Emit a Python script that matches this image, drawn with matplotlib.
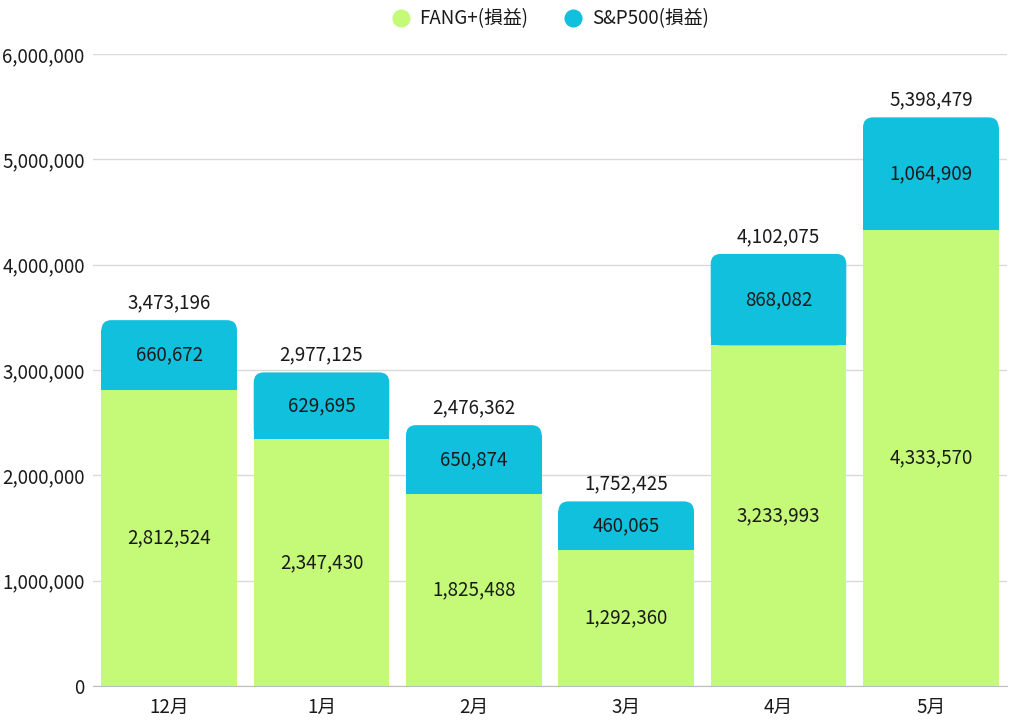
import matplotlib.pyplot as plt
from matplotlib.patches import FancyBboxPatch
from matplotlib.lines import Line2D
from matplotlib.ticker import FuncFormatter

plt.rcParams['font.family'] = ['Noto Sans CJK JP', 'DejaVu Sans']

# Data
months = ['12月', '1月', '2月', '3月', '4月', '5月']
fang = [2812524, 2347430, 1825488, 1292360, 3233993, 4333570]
sp500 = [660672, 629695, 650874, 460065, 868082, 1064909]
totals = [3473196, 2977125, 2476362, 1752425, 4102075, 5398479]

green = '#c5fa78'
cyan = '#10c0dd'
text_color = '#1a1a1a'

fig = plt.figure(figsize=(10.1, 7.2), dpi=100)
ax = fig.add_axes([93 / 1010, 34 / 720, 914 / 1010, 632 / 720])

x = list(range(len(months)))
width = 0.89
ax.set_xlim(-0.5, 5.5)
ax.set_ylim(0, 6000000)

# rounded corner radius: x in data units, y scaled by aspect
px_per_x = 914 / 6
px_per_y = 632 / 6000000
r_px = 10
rx = r_px / px_per_x
aspect = px_per_x / px_per_y
ry = rx * aspect

ax.bar(x, fang, width=width, color=green, zorder=2)
for i in x:
    # top segment with rounded top corners
    ax.add_patch(FancyBboxPatch((i - width / 2 + rx, fang[i] + ry),
                                width - 2 * rx, sp500[i] - 2 * ry,
                                boxstyle=f'round,pad={rx}',
                                mutation_aspect=aspect,
                                facecolor=cyan, edgecolor='none', zorder=2))
    ax.add_patch(plt.Rectangle((i - width / 2, fang[i]), width, sp500[i] - ry,
                               facecolor=cyan, edgecolor='none', zorder=2))
    ax.text(i, fang[i] / 2, f'{fang[i]:,}', ha='center', va='center',
            fontsize=13.5, color=text_color, zorder=3)
    ax.text(i, fang[i] + sp500[i] / 2, f'{sp500[i]:,}', ha='center', va='center',
            fontsize=13.5, color=text_color, zorder=3)
    ax.text(i, totals[i] + 65000, f'{totals[i]:,}', ha='center', va='bottom',
            fontsize=13.5, color=text_color, zorder=3)

ax.set_xticks(x)
ax.set_xticklabels(months)
ax.set_yticks(range(0, 6000001, 1000000))
ax.yaxis.set_major_formatter(FuncFormatter(lambda v, p: f'{int(v):,}'))
ax.tick_params(axis='both', length=0, labelsize=13.5, colors=text_color)
ax.tick_params(axis='y', pad=6)
ax.tick_params(axis='x', pad=8)
ax.grid(axis='y', color='#d9d9d9', linewidth=1, zorder=0)
ax.set_axisbelow(True)
for s in ['top', 'right', 'left']:
    ax.spines[s].set_visible(False)
ax.spines['bottom'].set_color('#bdbdbd')

handles = [Line2D([], [], marker='o', linestyle='', markersize=13,
                  markerfacecolor=green, markeredgecolor='none'),
           Line2D([], [], marker='o', linestyle='', markersize=13,
                  markerfacecolor=cyan, markeredgecolor='none')]
fig.legend(handles, ['FANG+(損益)', 'S&P500(損益)'], loc='center',
           bbox_to_anchor=(0.54, 0.974), ncol=2, frameon=False,
           fontsize=13.5, handletextpad=0.0, columnspacing=1.4,
           labelcolor=text_color)

fig.savefig('out.png', dpi=100)
